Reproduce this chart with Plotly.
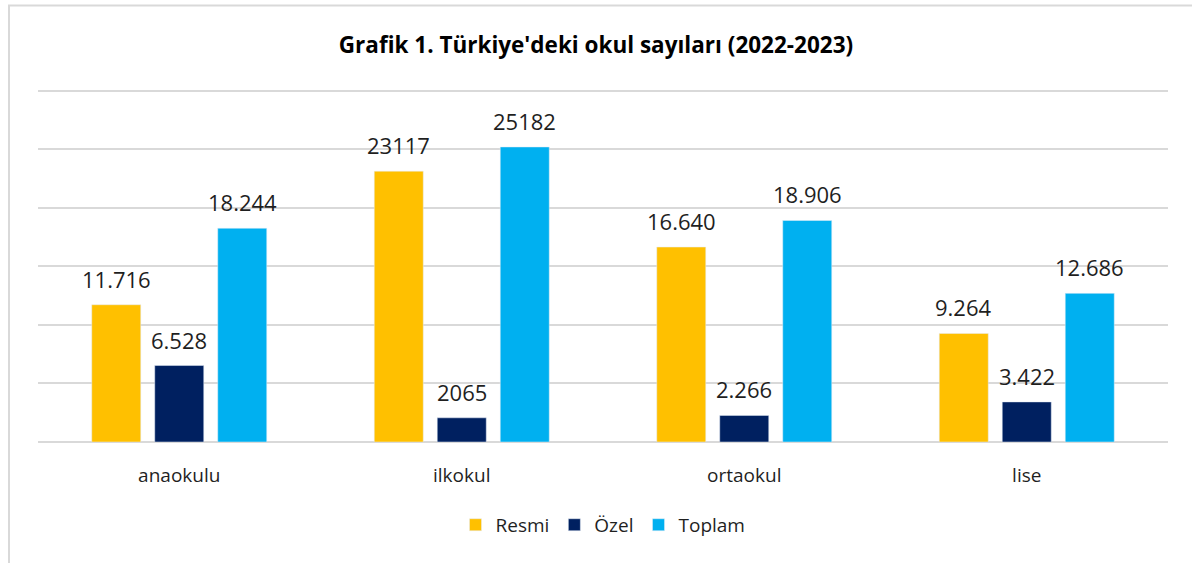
import plotly.graph_objects as go

categories = ["anaokulu", "ilkokul", "ortaokul", "lise"]
resmi = [11716, 23117, 16640, 9264]
ozel = [6528, 2065, 2266, 3422]
toplam = [18244, 25182, 18906, 12686]
resmi_labels = ["11.716", "23117", "16.640", "9.264"]
ozel_labels = ["6.528", "2065", "2.266", "3.422"]
toplam_labels = ["18.244", "25182", "18.906", "12.686"]

FONT = "Open Sans"
W, H = 1192, 563
YMAX = 30300
L, R, B = 38, 24, 121
T = round(442 - 352 * YMAX / 30000, 1)
BARGAP, GROUPGAP = 0.331, 0.222

pw = W - L - R
ph = H - T - B
slot_px = pw / len(categories) * (1 - BARGAP) / 3

series = [
    ("Resmi", resmi, resmi_labels, "#FFC000"),
    ("Özel", ozel, ozel_labels, "#002060"),
    ("Toplam", toplam, toplam_labels, "#00B0F0"),
]

fig = go.Figure()
for i, (name, vals, labs, col) in enumerate(series):
    fig.add_trace(go.Bar(x=categories, y=vals, name=name, marker_color=col))
    for c, v, t in zip(categories, vals, labs):
        fig.add_annotation(x=c, y=v, text=t, showarrow=False,
                           xshift=(i - 1) * slot_px, yshift=9, yanchor="bottom",
                           font=dict(family=FONT, size=22, color="#1f1f1f"))

fig.add_shape(type="rect", xref="paper", yref="paper",
              x0=(9 - L) / pw, x1=(W + 20 - L) / pw,
              y0=(H - B - (H + 20)) / ph, y1=(H - B - 5) / ph,
              line=dict(color="#d9d9d9", width=2), fillcolor="rgba(0,0,0,0)", layer="below")

fig.update_layout(
    width=W, height=H,
    margin=dict(l=L, r=R, t=T, b=B, pad=0),
    paper_bgcolor="white", plot_bgcolor="white",
    barmode="group", bargap=BARGAP, bargroupgap=GROUPGAP,
    title=dict(text="<b>Grafik 1. Türkiye'deki okul sayıları (2022-2023)</b>",
               x=0.5, xanchor="center", y=1 - 45 / H, yanchor="middle",
               font=dict(family=FONT, size=22.5, color="#000000")),
    font=dict(family=FONT, color="#1f1f1f"),
    xaxis=dict(tickfont=dict(family=FONT, size=19, color="#1f1f1f"),
               showline=False, ticks="", showgrid=False, ticklabelstandoff=20),
    yaxis=dict(range=[0, YMAX], tickvals=[0, 5000, 10000, 15000, 20000, 25000, 30000],
               showticklabels=False,
               gridcolor="#d9d9d9", gridwidth=1.5,
               zeroline=True, zerolinecolor="#d9d9d9", zerolinewidth=2),
    legend=dict(orientation="h", x=0.5, xanchor="center",
                y=-(525 - (H - B)) / ph, yanchor="middle",
                font=dict(family=FONT, size=19, color="#1f1f1f"),
                itemwidth=30, traceorder="normal"),
)

fig.write_html("out.html", config={"displayModeBar": False},
               post_script="document.body.style.margin='0';")
